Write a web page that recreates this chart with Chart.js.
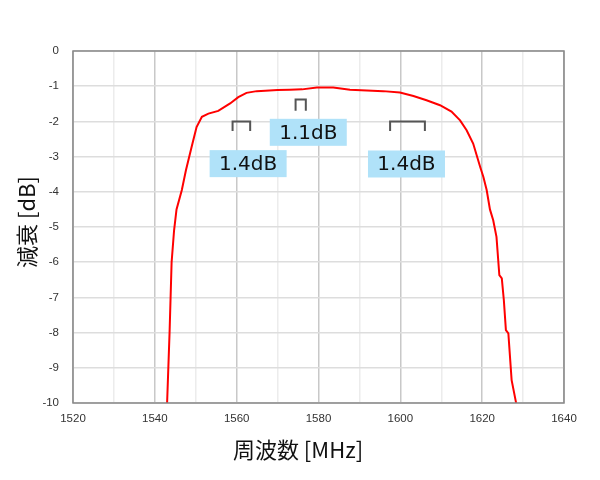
<!DOCTYPE html>
<html>
<head>
<meta charset="utf-8">
<script src="https://cdn.jsdelivr.net/npm/chart.js@4"></script>
<style>
  html, body { margin: 0; padding: 0; background: #fff; }
  #wrap { width: 600px; height: 480px; }
</style>
</head>
<body>
<div id="wrap"><canvas id="chart" width="600" height="480"></canvas></div>
<script>
// --- data ---
const freqs = [1542.8, 1543.0, 1543.6, 1544.1, 1544.7, 1545.3, 1546.6, 1547.6, 1549.0, 1550.2,
    1551.5, 1553.1, 1555.5, 1558.4, 1560.4, 1562.4, 1564.9, 1567.0, 1570.0, 1573.0,
    1576.0, 1579.6, 1583.6, 1587.7, 1591.8, 1595.8, 1599.9, 1603.2, 1606.4, 1609.7,
    1612.5, 1614.6, 1616.2, 1617.8, 1619.5, 1620.3, 1621.1, 1621.9, 1622.7, 1623.5,
    1624.2, 1624.8, 1625.3, 1625.8, 1626.4, 1627.2, 1628.3, 1628.5];
const atten = [-10.6, -10.0, -8.0, -6.0, -5.1, -4.5, -3.95, -3.39, -2.72, -2.16,
    -1.87, -1.78, -1.70, -1.49, -1.31, -1.19, -1.14, -1.13, -1.11, -1.10,
    -1.09, -1.04, -1.04, -1.10, -1.12, -1.14, -1.18, -1.28, -1.40, -1.54,
    -1.72, -1.97, -2.25, -2.63, -3.29, -3.58, -3.95, -4.50, -4.81, -5.28,
    -6.37, -6.46, -7.08, -7.93, -8.02, -9.35, -10.0, -10.5];

// ripple markers (brackets) and their labels
const bracketFrom = [1559.0, 1574.4, 1597.5];
const bracketTo = [1563.3, 1576.9, 1606.0];
const bracketTop = [-2.0, -1.38, -2.0];
const bracketBottom = [-2.27, -1.70, -2.27];
const labelText = ['1.4dB', '1.1dB', '1.4dB'];
const labelX = [1562.8, 1577.5, 1601.5];
const labelY = [-3.2, -2.31, -3.21];

const xTitle = '周波数 [MHz]';
const yTitle = '減衰 [dB]';
const xMin = 1520, xMax = 1640, yMin = -10, yMax = 0;

// --- plot border, annotations, axis titles ---
const extras = {
    id: 'extras',
    afterDatasetsDraw(chart) {
        const { ctx, chartArea: a, scales: { x, y } } = chart;
        ctx.save();
        ctx.strokeStyle = '#888';
        ctx.lineWidth = 1.5;
        ctx.strokeRect(a.left, a.top, a.right - a.left, a.bottom - a.top);

        // brackets
        ctx.strokeStyle = '#555';
        ctx.lineWidth = 2;
        bracketFrom.forEach((f, i) => {
            const x1 = x.getPixelForValue(f), x2 = x.getPixelForValue(bracketTo[i]);
            const yt = y.getPixelForValue(bracketTop[i]), yb = y.getPixelForValue(bracketBottom[i]);
            ctx.beginPath();
            ctx.moveTo(x1, yb);
            ctx.lineTo(x1, yt);
            ctx.lineTo(x2, yt);
            ctx.lineTo(x2, yb);
            ctx.stroke();
        });

        // label boxes
        ctx.font = '20px "DejaVu Sans"';
        ctx.textAlign = 'center';
        ctx.textBaseline = 'middle';
        labelText.forEach((t, i) => {
            const cx = x.getPixelForValue(labelX[i]), cy = y.getPixelForValue(labelY[i]);
            ctx.fillStyle = '#b0e2f9';
            ctx.fillRect(cx - 38.5, cy - 13.5, 77, 27);
            ctx.fillStyle = '#111';
            ctx.fillText(t, cx, cy + 1);
        });

        // axis titles (reference has them off-centre)
        ctx.fillStyle = '#111';
        ctx.font = '22px "Noto Sans CJK JP"';
        ctx.fillText(xTitle, 298, 450);
        ctx.translate(27, 222);
        ctx.rotate(-Math.PI / 2);
        ctx.fillText(yTitle, 0, 0);
        ctx.restore();
    }
};

new Chart(document.getElementById('chart'), {
    type: 'line',
    data: {
        datasets: [{
            data: freqs.map((f, i) => ({ x: f, y: atten[i] })),
            borderColor: '#ff0000',
            borderWidth: 2,
            pointRadius: 0,
            tension: 0,
            fill: false
        }]
    },
    options: {
        responsive: false,
        animation: false,
        layout: { padding: { left: 0, right: 36, top: 51, bottom: 0 } },
        plugins: { legend: { display: false }, tooltip: { enabled: false } },
        scales: {
            x: {
                type: 'linear',
                min: xMin, max: xMax,
                afterFit: s => { s.height = 77; },
                border: { display: false },
                grid: {
                    drawTicks: false,
                    color: c => (c.tick && c.tick.value % 20 === 0) ? '#c8c8c8' : '#ececec',
                    lineWidth: 1.5
                },
                ticks: {
                    stepSize: 10,
                    autoSkip: false,
                    maxRotation: 0,
                    padding: 9,
                    color: '#333',
                    font: { family: '"Liberation Sans", Arial', size: 11.5 },
                    callback: v => (v % 20 === 0 ? String(v) : '')
                }
            },
            y: {
                min: yMin, max: yMax,
                afterFit: s => { s.width = 73; },
                border: { display: false },
                grid: { drawTicks: false, color: '#dddddd', lineWidth: 1.5 },
                ticks: {
                    stepSize: 1,
                    padding: 14,
                    color: '#333',
                    font: { family: '"Liberation Sans", Arial', size: 11.5 }
                }
            }
        }
    },
    plugins: [extras]
});
</script>
</body>
</html>
